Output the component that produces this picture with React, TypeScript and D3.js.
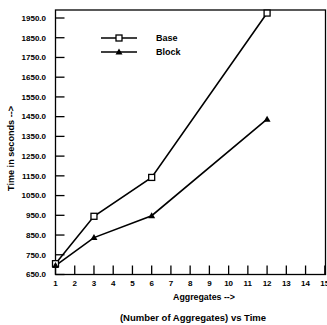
import React from "react";
import * as d3 from "d3";

// values
const aggregates = [1, 3, 6, 12];
const baseTimes = [705, 945, 1142, 1975];
const blockTimes = [695, 837, 948, 1437];
const xTicks = d3.range(1, 16);
const yTicks = d3.range(650, 1951, 100);

const W = 327;
const H = 325;
const frame = { left: 55.5, right: 325.5, top: 10, bottom: 274.5 };
const font = "'Liberation Sans', Arial, sans-serif";

export default function App() {
  const x = d3.scaleLinear().domain([1, 15]).range([frame.left, 324.8]);
  const y = d3.scaleLinear().domain([650, 1950]).range([frame.bottom, 18]);

  const line = d3
    .line<number>()
    .x((_, i) => x(aggregates[i]))
    .y((d) => y(d));

  const square = (cx: number, cy: number, key: string) => (
    <rect key={key} x={cx - 3} y={cy - 3} width={6} height={6} fill="white" stroke="black" strokeWidth={1.3} />
  );
  const triangle = (cx: number, cy: number, key: string) => (
    <path key={key} d={`M${cx},${cy - 3.5}L${cx + 3.5},${cy + 2.5}L${cx - 3.5},${cy + 2.5}Z`} fill="black" />
  );

  return (
    <svg width={W} height={H} style={{ position: "absolute", left: 0, top: 0, background: "white" }} fontFamily={font}>
      {/* frame */}
      <rect
        x={frame.left}
        y={frame.top}
        width={frame.right - frame.left}
        height={frame.bottom - frame.top}
        fill="none"
        stroke="black"
        strokeWidth={1.3}
      />
      {/* y ticks */}
      {yTicks.map((t) => (
        <g key={t}>
          <line x1={frame.left} x2={frame.left + 9} y1={y(t)} y2={y(t)} stroke="black" strokeWidth={1.3} />
          <text x={46} y={y(t)} dy="0.35em" textAnchor="end" fontSize={8} fontWeight="bold">
            {t.toFixed(1)}
          </text>
        </g>
      ))}
      {/* x ticks */}
      {xTicks.map((t) => (
        <g key={t}>
          <line x1={x(t)} x2={x(t)} y1={frame.bottom} y2={frame.bottom - 9} stroke="black" strokeWidth={1.3} />
          <text x={x(t)} y={286} textAnchor="middle" fontSize={8} fontWeight="bold">
            {t}
          </text>
        </g>
      ))}
      {/* series */}
      <path d={line(baseTimes) ?? ""} fill="none" stroke="black" strokeWidth={1.6} />
      <path d={line(blockTimes) ?? ""} fill="none" stroke="black" strokeWidth={1.6} />
      {baseTimes.map((v, i) => square(x(aggregates[i]), y(v), "b" + i))}
      {blockTimes.map((v, i) => triangle(x(aggregates[i]), y(v), "k" + i))}
      {/* legend */}
      <line x1={101} x2={137} y1={38} y2={38} stroke="black" strokeWidth={1.3} />
      {square(119, 38, "lb")}
      <text x={156} y={38} dy="0.35em" fontSize={9} fontWeight="bold">Base</text>
      <line x1={101} x2={137} y1={52} y2={52} stroke="black" strokeWidth={1.3} />
      {triangle(119, 52, "lk")}
      <text x={156} y={52} dy="0.35em" fontSize={9} fontWeight="bold">Block</text>
      {/* titles */}
      <text transform="translate(14,148.5) rotate(-90)" textAnchor="middle" fontSize={9.1} fontWeight="bold">
        Time in seconds  --&gt;
      </text>
      <text x={204} y={300} textAnchor="middle" fontSize={8.8} fontWeight="bold">
        Aggregates  --&gt;
      </text>
      <text x={193} y={321} textAnchor="middle" fontSize={9.5} fontWeight="bold">
        (Number of Aggregates) vs Time
      </text>
    </svg>
  );
}
